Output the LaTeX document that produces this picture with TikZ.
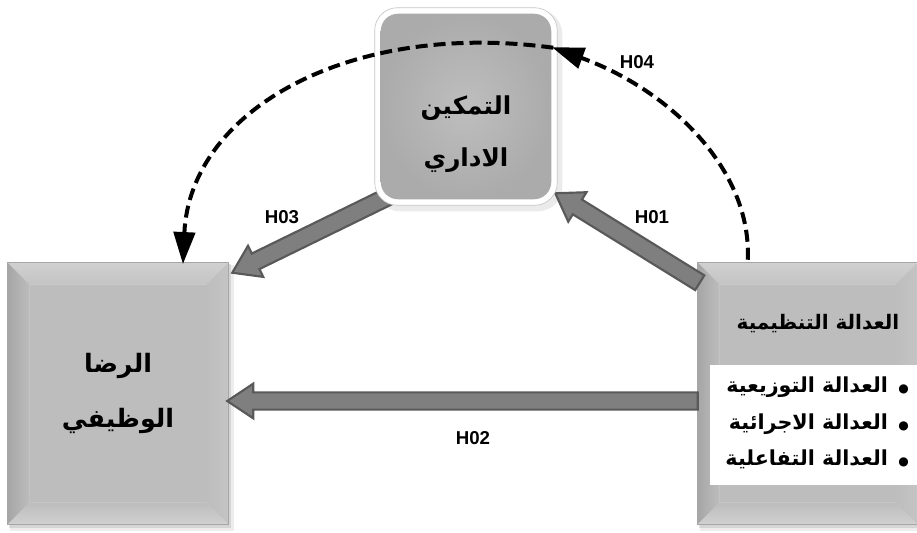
\documentclass[tikz,border=0pt]{standalone}
\usepackage{fontspec}
\setmainfont{Liberation Sans}
\newfontfamily\arfont[Script=Arabic]{DejaVu Sans}
\TeXXeTstate=1
\usetikzlibrary{calc,arrows.meta}
\pgfdeclarelayer{shadowlayer}
\pgfdeclarelayer{bglayer}
\pgfdeclarelayer{arrowlayer}
\pgfdeclarelayer{emplayer}
\pgfsetlayers{shadowlayer,bglayer,arrowlayer,emplayer,main}

\definecolor{face}{HTML}{BDBDBD}
\definecolor{bevlight}{HTML}{D0D0D0}
\definecolor{bevmid}{HTML}{C4C4C4}
\definecolor{bevdark}{HTML}{A6A6A6}
\definecolor{edge}{HTML}{A6A6A6}
\definecolor{arrowfill}{HTML}{7F7F7F}
\definecolor{arrowline}{HTML}{595959}
\definecolor{pillow}{HTML}{BEBEBE}
\definecolor{pillowedge}{HTML}{ABABAB}

\tikzset{
  panel/.style={inner sep=0pt, align=center,
    font=\arfont\bfseries\fontsize{19}{41}\selectfont},
  hlabel/.style={font=\bfseries\fontsize{14}{16}\selectfont},
  blockarrow/.style={fill=arrowfill, draw=arrowline, line width=1.6pt, line join=miter},
  dasharc/.style={line width=3pt, dash pattern=on 9pt off 4.5pt,
    -{Triangle[length=24pt,width=16pt]}, shorten >=-1pt},
  listtext/.style={inner sep=0pt, align=right,
    font=\arfont\bfseries\fontsize{15.5}{27.4}\selectfont},
}

% block arrow from #1 (tail) to #2 (tip)
\newcommand\blockarrow[2]{%
  \begin{pgfonlayer}{arrowlayer}
  \filldraw[blockarrow]
    ($(#1)!6.5pt!90:(#2)$) --
    ($(#2)!19.5pt!(#1)!6.5pt!90:(#2)$) --
    ($(#2)!19.5pt!(#1)!13pt!90:(#2)$) --
    (#2) --
    ($(#2)!19.5pt!(#1)!13pt!-90:(#2)$) --
    ($(#2)!19.5pt!(#1)!6.5pt!-90:(#2)$) --
    ($(#1)!6.5pt!-90:(#2)$) -- cycle;
  \end{pgfonlayer}}

% bevelled panel behind node #1 with bevel depth #2 (px)
\newcommand\bevelpanel[2]{%
  \begin{pgfonlayer}{shadowlayer}
    \fill[black,opacity=.07] ($(#1.north west)+(2,2)$) rectangle ($(#1.south east)+(6,7)$);
    \fill[black,opacity=.10] ($(#1.north west)+(1,1)$) rectangle ($(#1.south east)+(3,4)$);
  \end{pgfonlayer}
  \begin{pgfonlayer}{bglayer}
    \coordinate (#1-A) at (#1.north west);
    \coordinate (#1-B) at (#1.north east);
    \coordinate (#1-C) at (#1.south east);
    \coordinate (#1-D) at (#1.south west);
    \coordinate (#1-a) at ($(#1-A)+(#2,#2)$);
    \coordinate (#1-b) at ($(#1-B)+(-#2,#2)$);
    \coordinate (#1-c) at ($(#1-C)+(-#2,-#2)$);
    \coordinate (#1-d) at ($(#1-D)+(#2,-#2)$);
    \fill[face] (#1-a) rectangle (#1-c);
    \shade[top color=bevlight, bottom color=bevmid] (#1-A) -- (#1-B) -- (#1-b) -- (#1-a) -- cycle;
    \shade[left color=bevdark, right color=face] (#1-A) -- (#1-a) -- (#1-d) -- (#1-D) -- cycle;
    \shade[left color=face, right color=bevmid] (#1-B) -- (#1-C) -- (#1-c) -- (#1-b) -- cycle;
    \shade[top color=face, bottom color=bevlight] (#1-D) -- (#1-d) -- (#1-c) -- (#1-C) -- cycle;
    \draw[edge, line width=.6pt] (#1-A) rectangle (#1-C);
  \end{pgfonlayer}}

\begin{document}
\begin{tikzpicture}[x=0.75pt, y=-0.75pt]
\useasboundingbox (0,0) rectangle (917,532);

% ---- the three constructs ----
\node[panel, minimum width=165pt, minimum height=195.75pt] (sat) at (118,393.5)
  {\beginR الرضا\endR\\\beginR الوظيفي\endR};
\bevelpanel{sat}{22}

\node[panel, minimum width=164.25pt, minimum height=195.75pt] (org) at (807.5,393.5) {};
\bevelpanel{org}{22}
\begin{pgfonlayer}{bglayer}
  \fill[white] (710,365) rectangle (917,485);
\end{pgfonlayer}
\node[panel, font=\arfont\bfseries\fontsize{15}{17}\selectfont] (orgT) at (818,324)
  {\beginR العدالة التنظيمية\endR};
\node[listtext, anchor=east] (orgL) at (909,423)
  {\beginR{\fontsize{9}{9}\selectfont●}\enspace العدالة التوزيعية\endR\\
   \beginR{\fontsize{9}{9}\selectfont●}\enspace العدالة الاجرائية\endR\\
   \beginR{\fontsize{9}{9}\selectfont●}\enspace العدالة التفاعلية\endR};

\node[minimum width=136.5pt, minimum height=147.75pt, inner sep=0pt] (emp) at (466,106.5) {};
\node[panel, font=\arfont\bfseries\fontsize{18.5}{38.5}\selectfont] (empT) at (466,134)
  {\beginR التمكين\endR\\\beginR الاداري\endR};
\begin{pgfonlayer}{shadowlayer}
  \fill[black,opacity=.08, rounded corners=18pt] ($(emp.north west)+(1,2)$) rectangle ($(emp.south east)+(5,6)$);
\end{pgfonlayer}
\begin{pgfonlayer}{emplayer}
  \filldraw[fill=white, draw=gray!45, line width=.5pt, rounded corners=17pt]
    (emp.north west) rectangle (emp.south east);
  \shade[inner color=pillow, outer color=pillowedge, rounded corners=13pt]
    ($(emp.north west)+(6,6)$) rectangle ($(emp.south east)+(-6,-6)$);
\end{pgfonlayer}

% ---- direct paths ----
\coordinate (h1s) at ($(org.north west)+(2,20)$);
\coordinate (h1e) at ($(emp.south east)+(-2,-12)$);
\blockarrow{h1s}{h1e}
\coordinate (h3s) at ($(emp.south west)+(16,-10)$);
\coordinate (h3e) at ($(sat.north east)+(4,10)$);
\blockarrow{h3s}{h3e}
\coordinate (h2s) at ($(org.west)+(0,7.5)$);
\coordinate (h2e) at ($(sat.east)+(-1,7.5)$);
\blockarrow{h2s}{h2e}

% ---- mediated path ----
\coordinate (h4s) at ($(org.north west)+(50,-3)$);
\coordinate (h4m) at ($(emp.north east)+(-4,40)$);
\coordinate (h4e) at ($(sat.north)+(65,0)$);
\draw[dasharc] (h4s) .. controls (752,170) and (670,90) .. (h4m);
\draw[dasharc] (h4m) .. controls (350,20) and (190,110) .. (h4e);

% ---- path labels ----
\node[hlabel] (l1) at (652,217) {H01};
\node[hlabel] (l2) at (473,438) {H02};
\node[hlabel] (l3) at (282,217) {H03};
\node[hlabel] (l4) at (637,62) {H04};
\end{tikzpicture}
\end{document}
